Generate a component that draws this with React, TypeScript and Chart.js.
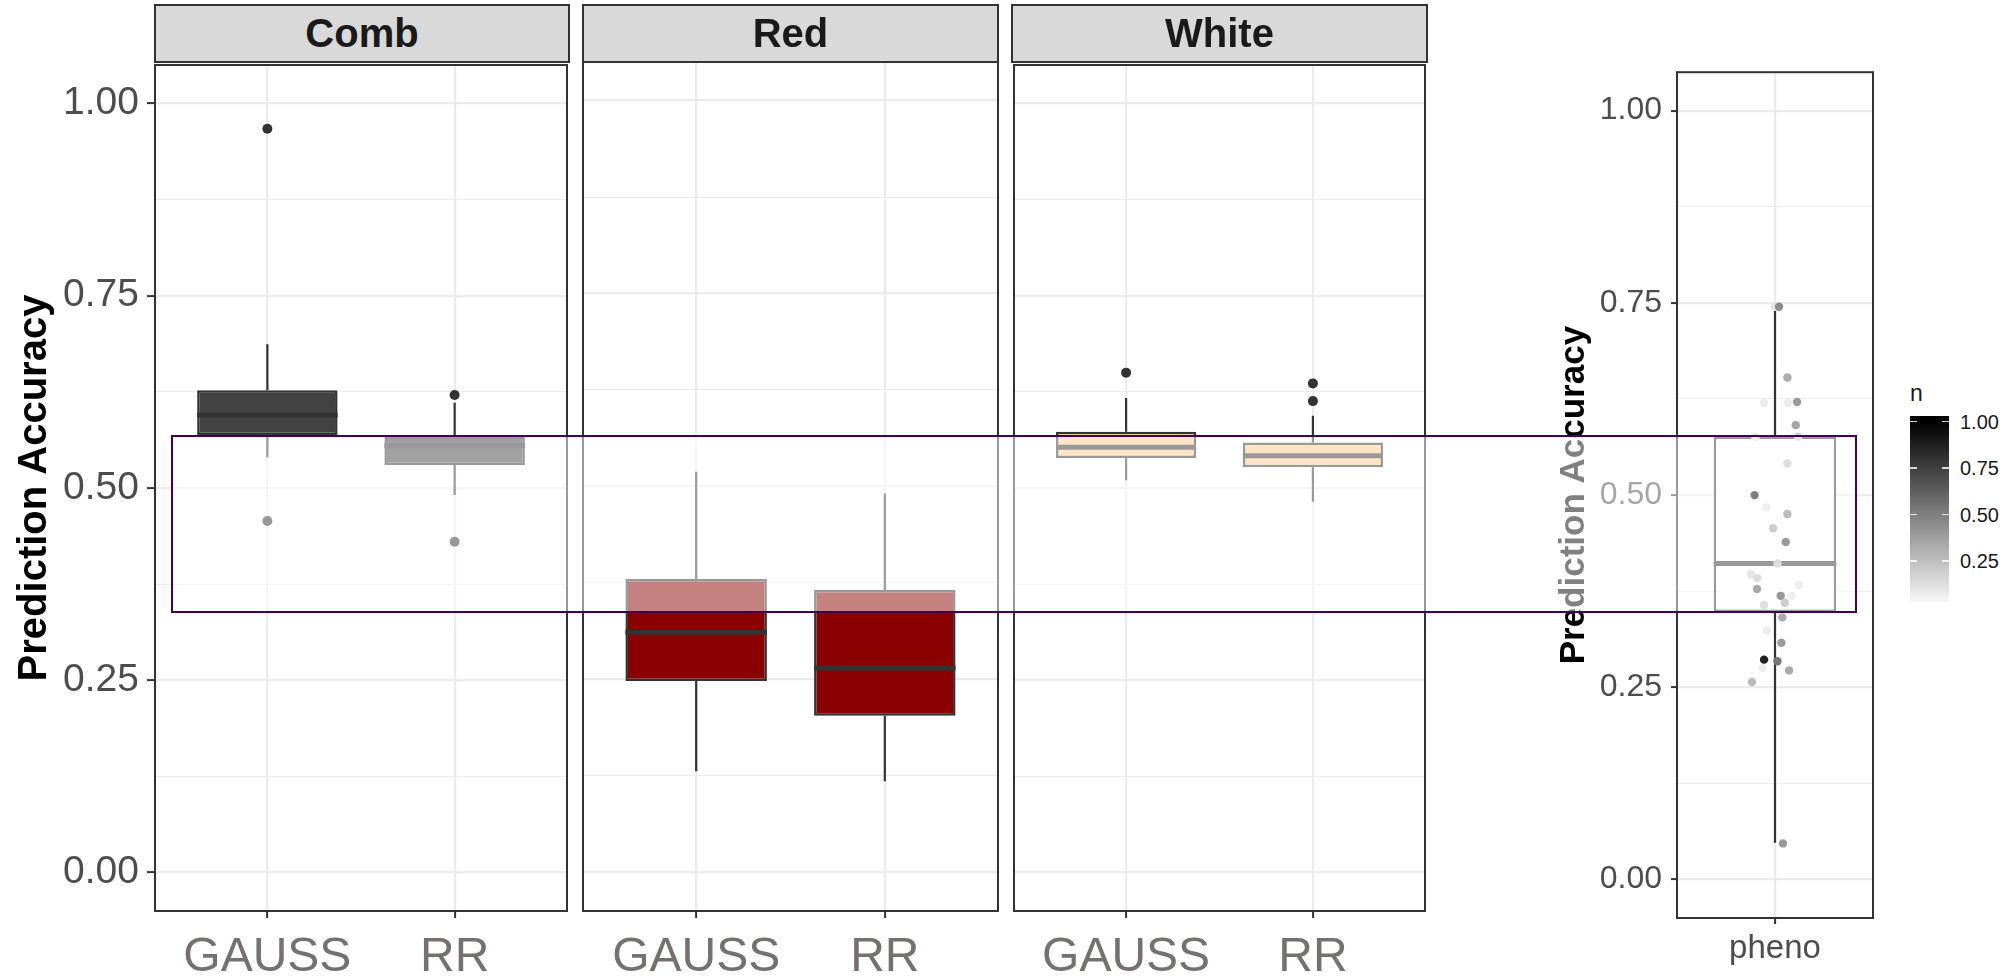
import React, { useEffect, useRef, useState } from "react";
import { Chart, registerables } from "chart.js";

Chart.register(...registerables);

const FONT = "'Liberation Sans', Arial, Helvetica, sans-serif";

// ---------------- data ----------------
const facetNames = ["Comb", "Red", "White"];
const methodLabels = ["GAUSS", "RR"];
const yMajorTicks = [0, 0.25, 0.5, 0.75, 1.0];
const yMinorTicks = [0.125, 0.375, 0.625, 0.875];

// values are [GAUSS, RR]
const combLower = [0.54, 0.491];
const combQ1 = [0.569, 0.53];
const combMedian = [0.595, 0.555];
const combQ3 = [0.627, 0.567];
const combUpper = [0.687, 0.611];
const combOutliers = [[0.967, 0.457], [0.621, 0.43]];

const redLower = [0.131, 0.118];
const redQ1 = [0.248, 0.203];
const redMedian = [0.311, 0.265];
const redQ3 = [0.38, 0.366];
const redUpper = [0.519, 0.491];
const redOutliers: number[][] = [[], []];

const whiteLower = [0.51, 0.482];
const whiteQ1 = [0.539, 0.527];
const whiteMedian = [0.553, 0.542];
const whiteQ3 = [0.573, 0.559];
const whiteUpper = [0.617, 0.594];
const whiteOutliers = [[0.65], [0.636, 0.613]];

const facetFills = ["#424242", "#8b0000", "#ffca8a"];

const phenoLabels = ["pheno"];
const phenoLower = [0.048];
const phenoQ1 = [0.348];
const phenoMedian = [0.411];
const phenoQ3 = [0.576];
const phenoUpper = [0.745];

const phenoJitter = [0.0, 0.025, 0.076, -0.067, 0.08, 0.135, 0.127, -0.12, 0.141, 0.076, -0.125, -0.053, 0.076, -0.012, 0.066, 0.015, -0.149, -0.108, -0.11, 0.145, 0.035, 0.101, 0.06, -0.067, 0.045, -0.049, 0.039, -0.067, 0.015, -0.074, 0.086, -0.141, 0.049];
const phenoValues = [0.745, 0.745, 0.653, 0.62, 0.62, 0.621, 0.591, 0.575, 0.576, 0.541, 0.5, 0.484, 0.4755, 0.457, 0.439, 0.411, 0.397, 0.392, 0.378, 0.383, 0.369, 0.369, 0.36, 0.357, 0.341, 0.324, 0.308, 0.286, 0.284, 0.275, 0.272, 0.257, 0.047];
const phenoN = [0.1, 0.45, 0.33, 0.08, 0.08, 0.4, 0.35, 0.1, 0.2, 0.27, 1.0, 0.13, 0.53, 0.4, 0.8, 0.27, 0.2, 0.27, 0.67, 0.13, 0.8, 0.13, 0.4, 0.27, 0.33, 0.07, 0.4, 0.87, 0.53, 0.07, 0.33, 0.27, 0.4];
const legendTicks = [0.25, 0.5, 0.75, 1.0];
const legendRange = [0.03, 1.03];

// ---------------- helpers ----------------
const nColor = (n: number) => {
  const g = Math.max(0, Math.min(255, Math.round(255 * (1 - n))));
  return `rgb(${g},${g},${g})`;
};
const isMajor = (v: number) => yMajorTicks.some((t) => Math.abs(t - v) < 1e-9);

const panelBorder = {
  id: "panelBorder",
  afterDatasetsDraw(chart: any) {
    const { ctx, chartArea: a } = chart;
    ctx.save();
    ctx.strokeStyle = "#333333";
    ctx.lineWidth = 2;
    ctx.strokeRect(a.left, a.top, a.right - a.left, a.bottom - a.top);
    ctx.restore();
  },
};

type Spec = {
  cats: string[];
  lower: number[];
  q1: number[];
  median: number[];
  q3: number[];
  upper: number[];
  outliers: number[][];
  fill: string;
  barPercentage: number;
  points?: { x: number; y: number }[];
  pointColors?: string[];
  showY: boolean;
  yWidth: number;
  yTickSize: number;
  yTickLen: number;
  yTickPad: number;
  titleSize: number;
  titlePad: number;
  xHeight: number;
  xTickSize: number;
  xTickLen: number;
  xTickPad: number;
  xColor: string;
  padding: { top: number; right: number; left: number; bottom: number };
};

function makeConfig(s: Spec): any {
  const half = 0.375;
  const whiskerData: any[] = [];
  const medianData: any[] = [];
  s.cats.forEach((_, i) => {
    const x = i + 1;
    whiskerData.push({ x, y: s.upper[i] }, { x, y: s.q3[i] }, { x, y: null }, { x, y: s.q1[i] }, { x, y: s.lower[i] }, { x, y: null });
    medianData.push({ x: x - half, y: s.median[i] }, { x: x + half, y: s.median[i] }, { x, y: null });
  });
  const boxData = s.cats.map((_, i) => ({ x: i + 1, y: [s.q1[i], s.q3[i]] }));
  const outlierData = s.outliers.flatMap((arr, i) => arr.map((v) => ({ x: i + 1, y: v })));

  const datasets: any[] = [
    {
      type: "line",
      data: whiskerData,
      borderColor: "#333333",
      borderWidth: 2.2,
      pointRadius: 0,
      spanGaps: false,
      fill: false,
      order: 4,
    },
    {
      type: "bar",
      data: boxData,
      backgroundColor: s.fill,
      borderColor: "#333333",
      borderWidth: 2.5,
      borderSkipped: false,
      barPercentage: s.barPercentage,
      categoryPercentage: 1,
      order: 3,
    },
    {
      type: "line",
      data: medianData,
      borderColor: "#333333",
      borderWidth: 5,
      pointRadius: 0,
      spanGaps: false,
      fill: false,
      order: 2,
    },
    {
      type: "scatter",
      data: outlierData,
      pointRadius: 5,
      pointBackgroundColor: "#333333",
      pointBorderWidth: 0,
      order: 1,
    },
  ];
  if (s.points) {
    datasets.push({
      type: "scatter",
      data: s.points,
      pointRadius: 4.2,
      pointBackgroundColor: s.pointColors,
      pointBorderWidth: 0,
      order: 0,
    });
  }

  return {
    type: "bar",
    data: { datasets },
    options: {
      animation: false,
      responsive: false,
      events: [],
      layout: { padding: s.padding },
      plugins: { legend: { display: false }, tooltip: { enabled: false } },
      scales: {
        x: {
          type: "linear",
          min: 0.4,
          max: s.cats.length + 0.6,
          offset: false,
          afterBuildTicks: (sc: any) => {
            sc.ticks = s.cats.map((_, i) => ({ value: i + 1 }));
          },
          afterFit: (sc: any) => {
            sc.height = s.xHeight;
            sc.paddingLeft = 0;
            sc.paddingRight = 0;
          },
          grid: {
            offset: false,
            color: "#ebebeb",
            lineWidth: 2.2,
            drawTicks: true,
            tickLength: s.xTickLen,
            tickColor: "#333333",
            tickWidth: 2,
          },
          border: { display: false },
          ticks: {
            autoSkip: false,
            maxRotation: 0,
            padding: s.xTickPad,
            color: s.xColor,
            font: { family: FONT, size: s.xTickSize },
            callback: (v: any) => s.cats[Math.round(Number(v)) - 1] ?? "",
          },
        },
        y: {
          type: "linear",
          min: -0.05,
          max: 1.05,
          afterBuildTicks: (sc: any) => {
            sc.ticks = [...yMajorTicks, ...yMinorTicks].sort((a, b) => a - b).map((v) => ({ value: v }));
          },
          afterFit: (sc: any) => {
            sc.width = s.yWidth;
            sc.paddingTop = 0;
            sc.paddingBottom = 0;
          },
          grid: {
            color: "#ebebeb",
            lineWidth: (c: any) => (isMajor(c.tick.value) ? 2.2 : 1.1),
            drawTicks: s.showY,
            tickLength: s.yTickLen,
            tickColor: (c: any) => (isMajor(c.tick.value) ? "#333333" : "rgba(0,0,0,0)"),
            tickWidth: 2,
          },
          border: { display: false },
          ticks: {
            display: s.showY,
            autoSkip: false,
            padding: s.yTickPad,
            color: "#4d4d4d",
            font: { family: FONT, size: s.yTickSize },
            callback: (v: any) => (isMajor(Number(v)) ? Number(v).toFixed(2) : ""),
          },
          title: {
            display: s.showY,
            text: "Prediction Accuracy",
            color: "#000000",
            font: { family: FONT, size: s.titleSize, weight: "bold" },
            padding: { top: s.titlePad, bottom: 0 },
          },
        },
      },
    },
    plugins: [panelBorder],
  };
}

// ---------------- layout ----------------
const FACET_TOP = 60;
const FACET_H = 917;
const facetLayout = [
  { left: 0, width: 572, yWidth: 155, padLeft: 0 },
  { left: 580, width: 421, yWidth: 0, padLeft: 3 },
  { left: 1009, width: 421, yWidth: 0, padLeft: 3 },
];
const PHENO = { left: 1540, top: 68, width: 340, height: 909 };
const LEGEND = { left: 1910, top: 416, width: 39, height: 186 };

export default function App() {
  const combRef = useRef<HTMLCanvasElement>(null);
  const redRef = useRef<HTMLCanvasElement>(null);
  const whiteRef = useRef<HTMLCanvasElement>(null);
  const phenoRef = useRef<HTMLCanvasElement>(null);
  const [band, setBand] = useState<{ top: number; bottom: number } | null>(null);

  useEffect(() => {
    const charts: Chart[] = [];
    const facetStats = [
      { lower: combLower, q1: combQ1, median: combMedian, q3: combQ3, upper: combUpper, outliers: combOutliers },
      { lower: redLower, q1: redQ1, median: redMedian, q3: redQ3, upper: redUpper, outliers: redOutliers },
      { lower: whiteLower, q1: whiteQ1, median: whiteMedian, q3: whiteQ3, upper: whiteUpper, outliers: whiteOutliers },
    ];
    const canvases = [combRef.current, redRef.current, whiteRef.current];
    canvases.forEach((cv, i) => {
      const lay = facetLayout[i];
      charts.push(
        new Chart(
          cv as HTMLCanvasElement,
          makeConfig({
            cats: methodLabels,
            ...facetStats[i],
            fill: facetFills[i],
            barPercentage: 0.75,
            showY: i === 0,
            yWidth: lay.yWidth,
            yTickSize: 39,
            yTickLen: 8,
            yTickPad: 8,
            titleSize: 40,
            titlePad: 11,
            xHeight: 66,
            xTickSize: 48,
            xTickLen: 7,
            xTickPad: 11,
            xColor: "#767171",
            padding: { top: 2, right: 3, left: lay.padLeft, bottom: 0 },
          })
        )
      );
    });

    const points = phenoValues.map((v, i) => ({ x: 1 + phenoJitter[i], y: v }));
    const pheno = new Chart(
      phenoRef.current as HTMLCanvasElement,
      makeConfig({
        cats: phenoLabels,
        lower: phenoLower,
        q1: phenoQ1,
        median: phenoMedian,
        q3: phenoQ3,
        upper: phenoUpper,
        outliers: [[]],
        fill: "#ffffff",
        barPercentage: 0.75 / 1.2,
        points,
        pointColors: phenoN.map(nColor),
        showY: true,
        yWidth: 137,
        yTickSize: 32,
        yTickLen: 6,
        yTickPad: 9,
        titleSize: 35,
        titlePad: 13,
        xHeight: 59,
        xTickSize: 33,
        xTickLen: 6,
        xTickPad: 5,
        xColor: "#4d4d4d",
        padding: { top: 2, right: 7, left: 0, bottom: 0 },
      })
    );
    charts.push(pheno);
    const ys: any = pheno.scales.y;
    setBand({
      top: PHENO.top + ys.getPixelForValue(phenoQ3[0]),
      bottom: PHENO.top + ys.getPixelForValue(phenoQ1[0]),
    });
    return () => charts.forEach((c) => c.destroy());
  }, []);

  const refs = [combRef, redRef, whiteRef];
  const legendY = (n: number) =>
    LEGEND.top + ((legendRange[1] - n) / (legendRange[1] - legendRange[0])) * LEGEND.height;

  return (
    <div
      style={{
        position: "absolute",
        left: 0,
        top: 0,
        width: 2009,
        height: 977,
        background: "#ffffff",
        overflow: "hidden",
        fontFamily: FONT,
      }}
    >
      {facetLayout.map((lay, i) => (
        <canvas
          key={facetNames[i]}
          ref={refs[i]}
          width={lay.width}
          height={FACET_H}
          style={{ position: "absolute", left: lay.left, top: FACET_TOP, width: lay.width, height: FACET_H }}
        />
      ))}
      {facetLayout.map((lay, i) => {
        const left = lay.left + lay.padLeft + lay.yWidth - 1;
        const right = lay.left + lay.width - 3 + 1;
        return (
          <div
            key={"strip" + i}
            style={{
              position: "absolute",
              left,
              top: 4,
              width: right - left,
              height: 59,
              boxSizing: "border-box",
              border: "2px solid #333333",
              background: "#d9d9d9",
              display: "flex",
              alignItems: "center",
              justifyContent: "center",
              fontWeight: "bold",
              fontSize: 40,
              color: "#1a1a1a",
            }}
          >
            {facetNames[i]}
          </div>
        );
      })}
      <canvas
        ref={phenoRef}
        width={PHENO.width}
        height={PHENO.height}
        style={{ position: "absolute", left: PHENO.left, top: PHENO.top, width: PHENO.width, height: PHENO.height }}
      />
      {/* colour bar legend */}
      <div style={{ position: "absolute", left: LEGEND.left, top: 382, fontSize: 23, lineHeight: 1, color: "#1a1a1a" }}>n</div>
      <div
        style={{
          position: "absolute",
          left: LEGEND.left,
          top: LEGEND.top,
          width: LEGEND.width,
          height: LEGEND.height,
          background: `linear-gradient(to top, ${nColor(legendRange[0])}, ${nColor(1)} ${(
            ((1 - legendRange[0]) / (legendRange[1] - legendRange[0])) *
            100
          ).toFixed(1)}%, ${nColor(1)})`,
        }}
      />
      {legendTicks.map((t) => (
        <React.Fragment key={"lt" + t}>
          <div style={{ position: "absolute", left: LEGEND.left, top: legendY(t) - 0.75, width: 7, height: 1.5, background: "rgba(255,255,255,0.8)" }} />
          <div style={{ position: "absolute", left: LEGEND.left + LEGEND.width - 7, top: legendY(t) - 0.75, width: 7, height: 1.5, background: "rgba(255,255,255,0.8)" }} />
          <div
            style={{
              position: "absolute",
              left: 1960,
              top: legendY(t),
              transform: "translateY(-50%)",
              fontSize: 20,
              lineHeight: 1,
              color: "#1a1a1a",
            }}
          >
            {t.toFixed(2)}
          </div>
        </React.Fragment>
      ))}
      {/* highlight band (pheno interquartile range) */}
      {band && (
        <div
          style={{
            position: "absolute",
            left: 171,
            top: band.top - 1.25,
            width: 1857 - 171,
            height: band.bottom - band.top + 2.5,
            boxSizing: "border-box",
            border: "2.5px solid #440154",
            background: "rgba(255,255,255,0.5)",
            pointerEvents: "none",
          }}
        />
      )}
    </div>
  );
}
